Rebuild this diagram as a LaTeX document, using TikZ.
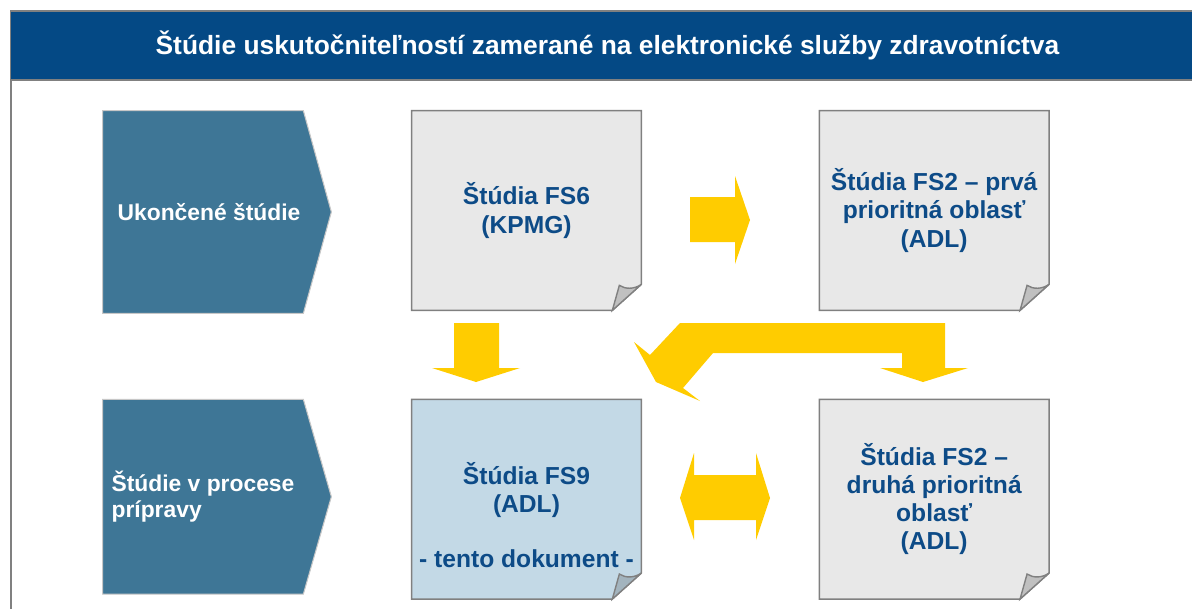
\documentclass[tikz,border=0pt]{standalone}
\usepackage{fontspec}
\setmainfont{Liberation Sans}
\usetikzlibrary{positioning,backgrounds}
\definecolor{titleblue}{HTML}{044985}
\definecolor{chevblue}{HTML}{3E7696}
\definecolor{docgray}{HTML}{E8E8E8}
\definecolor{docblue}{HTML}{C3D9E6}
\definecolor{foldgray}{HTML}{C0C0C0}
\definecolor{foldblue}{HTML}{A3B4BE}
\definecolor{textblue}{HTML}{0D4B87}
\definecolor{arrowyellow}{HTML}{FFCC00}
\definecolor{linegray}{HTML}{808080}
\tikzset{
    doc/.style = {minimum width=4.58cm, minimum height=3.98cm, inner sep=0pt,
        text=textblue, font=\bfseries\fontsize{14}{16}\selectfont, align=center},
    chevron/.style = {minimum width=4cm, inner sep=0pt, text=white,
        font=\bfseries\fontsize{13}{15}\selectfont, align=left},
    docline/.style = {draw=linegray, line width=0.8pt},
    chevline/.style = {draw=black!22, line width=0.6pt},
    bigarrow/.style = {fill=arrowyellow}
}
\begin{document}
\begin{tikzpicture}
    \useasboundingbox (0,0) rectangle (23.84,-12.18);
    % frame and title bar
    \draw[linegray, line width=0.8pt] (0.22,-0.22) rectangle (24.5,-12.6);
    \fill[titleblue] (0.22,-0.22) rectangle (24.5,-1.60);
    \draw[linegray, line width=1pt] (0.22,-0.22) -- (24.5,-0.22)
        (0.22,-1.60) -- (24.5,-1.60);
    \node[font=\bfseries\fontsize{15}{17}\selectfont, text=white] (title) at (12.15,-0.91)
        {Štúdie uskutočniteľností zamerané na elektronické služby zdravotníctva};

    % row labels
    \node[chevron, minimum height=4.04cm] (done) at (4.06,-4.24) {\hspace*{0.24cm}Ukončené štúdie};
    \node[chevron, minimum height=3.88cm, below=1.72cm of done] (inprep)
        {Štúdie v procese\\prípravy};

    % studies
    \node[doc] (fs6) at (10.53,-4.21) {Štúdia FS6\\(KPMG)};
    \node[doc, right=3.56cm of fs6] (fs2a) {Štúdia FS2 – prvá\\prioritná oblasť\\(ADL)};
    \node[doc, below=1.78cm of fs6] (fs9) {};
    \node[doc, below=1.78cm of fs2a] (fs2b) {Štúdia FS2 –\\druhá prioritná\\oblasť\\(ADL)};
    \node[doc, minimum width=0pt, minimum height=0pt] (fs9text) at ([yshift=-0.32cm]fs9.center)
        {Štúdia FS9\\(ADL)\\[15pt]- tento dokument -};

    \begin{scope}[on background layer]
        \foreach \n in {done, inprep}
            \draw[chevline, fill=chevblue] (\n.north west) -- (\n.north east)
                -- ([xshift=0.56cm]\n.east) -- (\n.south east) -- (\n.south west) -- cycle;
        \foreach \n/\c/\f in {fs6/docgray/foldgray, fs2a/docgray/foldgray,
                fs9/docblue/foldblue, fs2b/docgray/foldgray} {
            \draw[docline, fill=\c] (\n.north west) -- (\n.north east)
                -- ([yshift=0.52cm]\n.south east) -- ([xshift=-0.58cm]\n.south east)
                -- (\n.south west) -- cycle;
            \draw[docline, fill=\f, shift={(\n.south east)}] (-0.58,0) -- (-0.44,0.5)
                .. controls (-0.32,0.42) and (-0.14,0.42) .. (0,0.52) -- cycle;
        }
    \end{scope}

    % yellow arrows
    \fill[bigarrow] (13.8,-3.94) -- (14.7,-3.94) -- (14.7,-3.52) -- (15.0,-4.40)
        -- (14.7,-5.28) -- (14.7,-4.84) -- (13.8,-4.84) -- cycle;
    \fill[bigarrow] (9.08,-6.46) -- (9.98,-6.46) -- (9.98,-7.36) -- (10.40,-7.36)
        -- (9.52,-7.64) -- (8.64,-7.36) -- (9.08,-7.36) -- cycle;
    \fill[bigarrow] (13.6,-9.96) -- (13.88,-9.06) -- (13.88,-9.50) -- (15.12,-9.50)
        -- (15.12,-9.06) -- (15.40,-9.96) -- (15.12,-10.80) -- (15.12,-10.40)
        -- (13.88,-10.40) -- (13.88,-10.80) -- cycle;
    \fill[bigarrow] (13.6,-6.46) -- (18.9,-6.46) -- (18.9,-7.36) -- (19.36,-7.36)
        -- (18.46,-7.64) -- (17.6,-7.36) -- (18.04,-7.36) -- (18.04,-7.06)
        -- (14.26,-7.06) -- (13.66,-7.76) -- (14.0,-8.02) -- (13.12,-7.64)
        -- (12.68,-6.84) -- (13.0,-7.10) -- cycle;
\end{tikzpicture}
\end{document}
